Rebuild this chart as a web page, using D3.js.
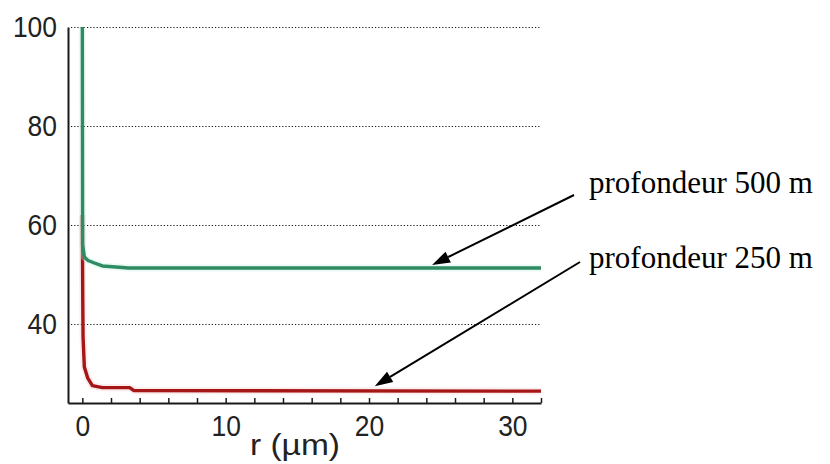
<!DOCTYPE html>
<html>
<head>
<meta charset="utf-8">
<script src="https://cdn.jsdelivr.net/npm/d3@7"></script>
<style>
  html, body { margin: 0; padding: 0; background: #fff; }
  svg { display: block; }
</style>
</head>
<body>
<svg id="chart" width="830" height="464"></svg>
<script>
// Radius r (µm) and value for the 500 m depth curve
const r500 = [0, 0.02, 0.14, 0.4, 0.84, 1.4, 2.8, 3.2, 32];
const v500 = [100, 56, 53.5, 52.8, 52.3, 51.7, 51.4, 51.3, 51.3];

// Radius r (µm) and value for the 250 m depth curve
const r250 = [0, 0.01, 0.03, 0.05, 0.14, 0.37, 0.7, 1.4, 3.3, 3.6, 32];
const v250 = [62, 55, 45, 37.4, 31.3, 29.1, 27.5, 27.1, 27.1, 26.5, 26.4];

// Axis ticks
const xTicks = [0, 2, 4, 6, 8, 10, 12, 14, 16, 18, 20, 22, 24, 26, 28, 30, 32];
const xTickLabels = [0, 10, 20, 30];
const yTicks = [40, 60, 80, 100];
const xTitle = "r (µm)";

// Annotation labels and the point each arrow designates (r, value)
const labels = ["profondeur 500 m", "profondeur 250 m"];
const arrowTargets = [[24.4, 51.9], [20.4, 27.4]];

const svg = d3.select("#chart");

const x = d3.scaleLinear().domain([-1, 32]).range([68, 541]);
const y = d3.scaleLinear().domain([24, 100]).range([403, 27]);

const axisFont = "Liberation Sans, Arial, sans-serif";
const digitWidth = 14.7; // narrow, tall screen-style digits

// Dotted horizontal gridlines
svg.append("g")
  .selectAll("line")
  .data(yTicks)
  .join("line")
  .attr("x1", x(-1) + 3)
  .attr("x2", x(32))
  .attr("y1", d => Math.round(y(d)) + 0.5)
  .attr("y2", d => Math.round(y(d)) + 0.5)
  .attr("stroke", "#111")
  .attr("stroke-width", 1.2)
  .attr("stroke-dasharray", "1.2,2");

// Curves
const line = d3.line().x(d => x(d[0])).y(d => y(d[1]));
const s250 = r250.map((r, i) => [r, v250[i]]);
const s500 = r500.map((r, i) => [r, v500[i]]);

function drawCurve(data, color, halo) {
  svg.append("path")
    .datum(data)
    .attr("fill", "none")
    .attr("stroke", halo)
    .attr("stroke-width", 7)
    .attr("stroke-opacity", 0.35)
    .attr("stroke-linejoin", "round")
    .attr("d", line);
  svg.append("path")
    .datum(data)
    .attr("fill", "none")
    .attr("stroke", color)
    .attr("stroke-width", 3.4)
    .attr("stroke-linejoin", "round")
    .attr("d", line);
}
drawCurve(s250, "#a51616", "#f6c8c8");
drawCurve(s500, "#2e8b62", "#bfeedd");

function styleTickText(sel) {
  sel.attr("font-family", axisFont)
    .attr("font-size", 29)
    .attr("fill", "#222")
    .each(function () {
      const t = this.textContent;
      if (t) {
        d3.select(this)
          .attr("textLength", t.length * digitWidth)
          .attr("lengthAdjust", "spacingAndGlyphs");
      }
    });
}

// Axes
const xAxis = d3.axisBottom(x)
  .tickValues(xTicks)
  .tickSizeInner(-5)
  .tickSizeOuter(0)
  .tickPadding(12)
  .tickFormat(d => xTickLabels.includes(d) ? d : "");
const gx = svg.append("g")
  .attr("transform", "translate(0,403)")
  .call(xAxis);
gx.select(".domain").attr("stroke", "#1a1a1a").attr("stroke-width", 2);
gx.selectAll(".tick line").attr("stroke", "#1a1a1a").attr("stroke-width", 1.5);
gx.selectAll(".tick text").call(styleTickText);

const yAxis = d3.axisLeft(y)
  .tickValues(yTicks)
  .tickSize(0)
  .tickPadding(11);
const gy = svg.append("g")
  .attr("transform", "translate(68,0)")
  .call(yAxis);
gy.select(".domain").attr("stroke", "#1a1a1a").attr("stroke-width", 2);
gy.selectAll(".tick text").call(styleTickText);

// Axis title
svg.append("text")
  .attr("x", 295)
  .attr("y", 455)
  .attr("text-anchor", "middle")
  .attr("font-family", axisFont)
  .attr("font-size", 30)
  .attr("fill", "#222")
  .attr("textLength", 90)
  .attr("lengthAdjust", "spacingAndGlyphs")
  .text(xTitle);

// Annotations with arrows
const labelPos = [[589, 193], [589, 268]];
const arrowStart = [[574, 195], [580, 262]];

labels.forEach((txt, i) => {
  svg.append("text")
    .attr("x", labelPos[i][0])
    .attr("y", labelPos[i][1])
    .attr("font-family", "Liberation Serif, Times New Roman, serif")
    .attr("font-size", 31)
    .attr("fill", "#000")
    .text(txt);

  const [sx, sy] = arrowStart[i];
  const tx = x(arrowTargets[i][0]);
  const ty = y(arrowTargets[i][1]);
  const ang = Math.atan2(ty - sy, tx - sx);
  const headLen = 18, headHalf = 6;
  const bx = tx - headLen * Math.cos(ang);
  const by = ty - headLen * Math.sin(ang);

  svg.append("line")
    .attr("x1", sx).attr("y1", sy)
    .attr("x2", bx).attr("y2", by)
    .attr("stroke", "#000")
    .attr("stroke-width", 2);

  const px = -Math.sin(ang), py = Math.cos(ang);
  svg.append("polygon")
    .attr("points", [
      [tx, ty],
      [bx + px * headHalf, by + py * headHalf],
      [bx - px * headHalf, by - py * headHalf]
    ].map(p => p.join(",")).join(" "))
    .attr("fill", "#000");
});
</script>
</body>
</html>
